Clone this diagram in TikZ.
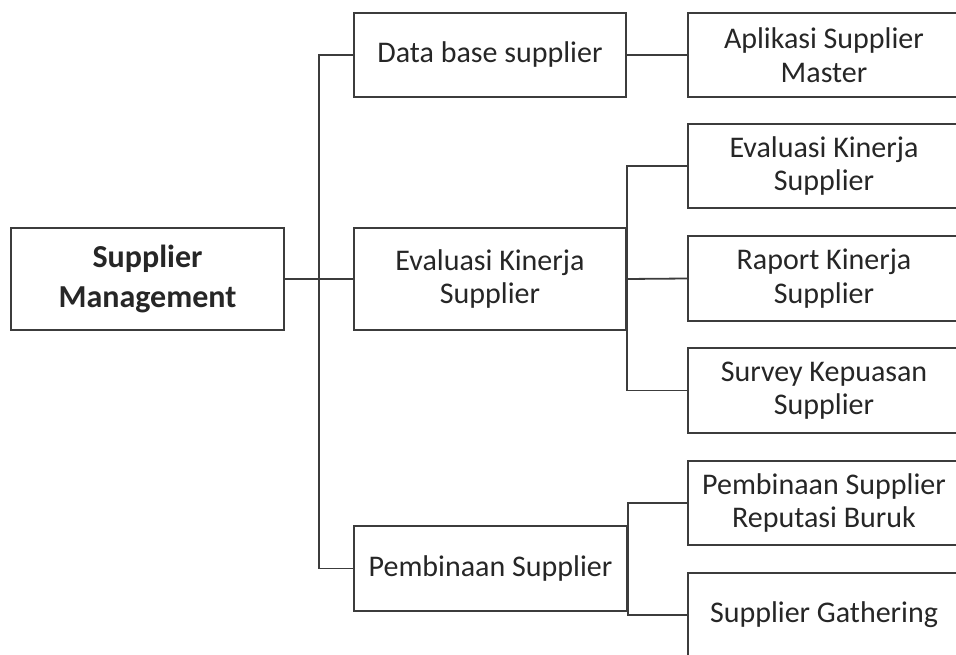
\documentclass[tikz,border=0pt]{standalone}
\usepackage{fontspec}
\setmainfont{Carlito}
\definecolor{linec}{HTML}{3C3C3C}
\definecolor{textc}{HTML}{262626}
\tikzset{
  box/.style={draw=linec, line width=1.8pt, rectangle, align=center, text=textc,
    inner sep=0pt, font=\fontsize{30}{33.5}\selectfont},
  rootbox/.style={box, font=\fontsize{32}{40}\selectfont\bfseries},
  conn/.style={draw=linec, line width=1.8pt}
}
\begin{document}
\begin{tikzpicture}[x=1pt,y=-1pt]
\useasboundingbox (0,0) rectangle (956,655);
\clip (0,0) rectangle (956,655);
% root
\node[rootbox, minimum width=273pt, minimum height=102pt] (root) at (147.5,279) {Supplier\\Management};
% middle
\node[box, minimum width=272pt, minimum height=84pt] (m1) at (490,55) {Data base supplier};
\node[box, minimum width=272pt, minimum height=102pt] (m2) at (490,279) {Evaluasi Kinerja\\Supplier};
\node[box, minimum width=273pt, minimum height=85pt] (m3) at (490.5,568.5) {Pembinaan Supplier};
% right
\node[box, minimum width=272pt, minimum height=84pt] (r1) at (824,55) {Aplikasi Supplier\\Master};
\node[box, minimum width=272pt, minimum height=84pt] (r2) at (824,166) {Evaluasi Kinerja\\Supplier};
\node[box, minimum width=272pt, minimum height=85pt] (r3) at (824,278.5) {Raport Kinerja\\Supplier};
\node[box, minimum width=272pt, minimum height=85pt] (r4) at (824,390.5) {Survey Kepuasan\\Supplier};
\node[box, minimum width=272pt, minimum height=84pt] (r5) at (824,503) {Pembinaan Supplier\\Reputasi Buruk};
\node[box, minimum width=272pt, minimum height=84pt] (r6) at (824,615) {Supplier Gathering};
% connectors
\coordinate (t) at (319,279);
\path[conn] (root.east) -- (m2.west);
\path[conn] (m1.west) -| (t) |- (m3.west);
\path[conn] (m1.east) -- (r1.west);
\path[conn] (r2.west) -| (m2.east) |- (r4.west);
\path[conn] (m2.east) -- (r3.west);
\path[conn] (r5.west) -| (m3.east) |- (r6.west);
\end{tikzpicture}
\end{document}
